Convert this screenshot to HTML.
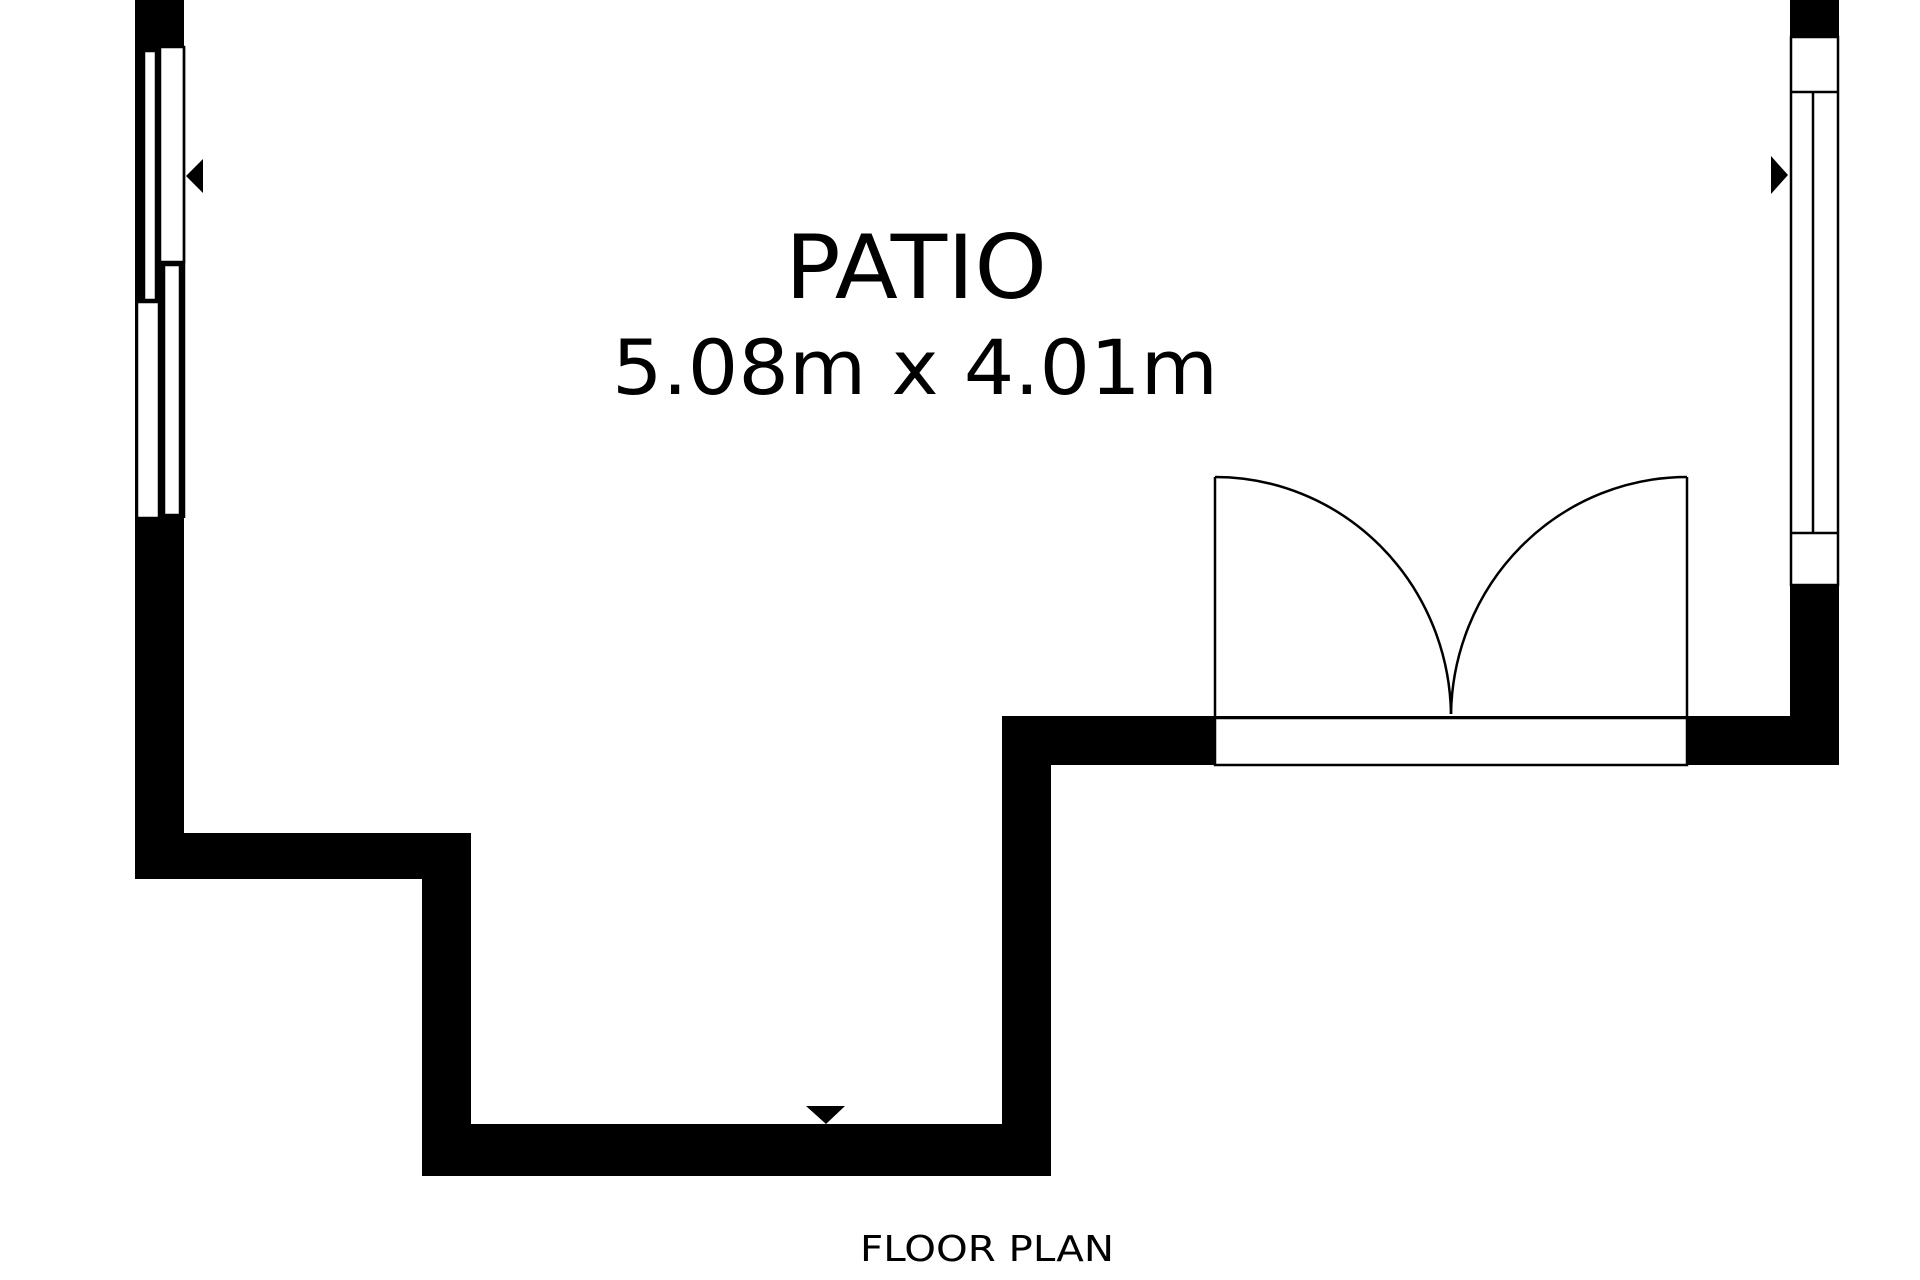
<!DOCTYPE html>
<html><head><meta charset="utf-8"><style>
html,body{margin:0;padding:0;background:#fff;width:1920px;height:1280px;overflow:hidden}
</style></head><body>
<svg width="1920" height="1280" viewBox="0 0 1920 1280" xmlns="http://www.w3.org/2000/svg">
<rect width="1920" height="1280" fill="#fff"/>
<g fill="#000">
<rect x="135" y="0" width="49" height="879"/>
<rect x="135" y="833" width="336" height="46"/>
<rect x="422" y="833" width="49" height="343"/>
<rect x="422" y="1124" width="629" height="52"/>
<rect x="1002" y="716" width="49" height="460"/>
<rect x="1002" y="716" width="837" height="49"/>
<rect x="1790" y="0" width="49" height="765"/>
</g>
<g fill="#fff" stroke="#000" stroke-width="2.5">
<rect x="137" y="47" width="47" height="471" fill="#000" stroke="none"/>
<rect x="144" y="51" width="12" height="249"/>
<rect x="160" y="47" width="24" height="215"/>
<rect x="137" y="302" width="22" height="216"/>
<rect x="164" y="265" width="16" height="250"/>
<line x1="184" y1="47" x2="184" y2="518"/>
</g>
<g fill="#fff" stroke="#000" stroke-width="2.5">
<rect x="1791" y="37" width="47" height="548"/>
<line x1="1791" y1="92" x2="1838" y2="92"/>
<line x1="1791" y1="533" x2="1838" y2="533"/>
<line x1="1813" y1="92" x2="1813" y2="533"/>
</g>
<g fill="none" stroke="#000" stroke-width="2.5">
<rect x="1215" y="718" width="472" height="47" fill="#fff"/>
<line x1="1215" y1="477" x2="1215" y2="718"/>
<line x1="1687" y1="477" x2="1687" y2="718"/>
<path d="M1215 477 A236 241 0 0 1 1451 714"/>
<path d="M1687 477 A236 241 0 0 0 1451 714"/>
</g>
<polygon points="186,176 203,159 203,193" fill="#000"/>
<polygon points="1788,175 1771,156 1771,194" fill="#000"/>
<polygon points="806,1106 845,1106 826,1124" fill="#000"/>
<g font-family="'DejaVu Sans','Liberation Sans',sans-serif" fill="#000" text-anchor="middle">
<text x="916" y="298" font-size="88" textLength="262" lengthAdjust="spacingAndGlyphs">PATIO</text>
<text x="915" y="394" font-size="76" textLength="606" lengthAdjust="spacingAndGlyphs">5.08m x 4.01m</text>
<text x="987" y="1261" font-size="36" textLength="254" lengthAdjust="spacingAndGlyphs">FLOOR PLAN</text>
</g>
</svg>
</body></html>
